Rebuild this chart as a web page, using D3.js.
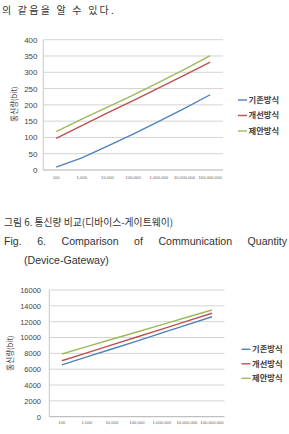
<!DOCTYPE html>
<html><head><meta charset="utf-8">
<script src="https://cdn.jsdelivr.net/npm/d3@7"></script>
<style>
html,body{margin:0;padding:0;background:#fff;}
svg{display:block;}
</style></head>
<body>
<svg id="c" width="289" height="434"></svg>
<script>
const categories = ["100","1,000","10,000","100,000","1,000,000","10,000,000","100,000,000"];
const seriesNames = ["기존방식","개선방식","제안방식"];
const colors = ["#4F81BD","#C0504D","#9BBB59"];
// Chart 1: Device-Gateway
const c1Existing = [9, 37, 73, 110, 149, 189, 231];
const c1Improved = [97, 136, 175, 213, 252, 291, 331];
const c1Proposed = [118, 156, 193, 230, 269, 309, 351];
const c1Ticks = [0,50,100,150,200,250,300,350,400];
// Chart 2
const c2Existing = [6550, 7550, 8550, 9550, 10580, 11600, 12620];
const c2Improved = [7070, 8070, 9070, 10070, 11060, 12060, 13060];
const c2Proposed = [7920, 8850, 9780, 10700, 11630, 12560, 13480];
const c2Ticks = [0,2000,4000,6000,8000,10000,12000,14000,16000];
const yTitle = "통신량(bit)";

const svg = d3.select("#c");
const KR = "'Noto Sans CJK KR','Noto Sans',sans-serif";
const NUM = "'Liberation Sans',Arial,sans-serif";

// Top body text
svg.append("text").attr("x",2).attr("y",14).attr("font-family",KR)
  .attr("font-size",10).attr("letter-spacing","2.2px").attr("fill","#333")
  .text("의 같음을 알 수 있다.");

// Captions
svg.append("text").attr("x",4).attr("y",226).attr("font-family",KR)
  .attr("font-size",9.8).attr("fill","#333")
  .text("그림 6. 통신량 비교(디바이스-게이트웨이)");
// Justified English line
const figWords = ["Fig.","6.","Comparison","of","Communication","Quantity"];
(function(){
  const left = 4, right = 287, y = 245;
  const ts = figWords.map(w => svg.append("text").attr("y",y).attr("font-family",NUM)
    .attr("font-size",10.6).attr("fill","#333").text(w));
  const widths = ts.map(t => t.node().getComputedTextLength());
  const gap = (right - left - d3.sum(widths)) / (figWords.length - 1);
  let xx = left;
  ts.forEach((t,i)=>{ t.attr("x",xx); xx += widths[i] + gap; });
})();
svg.append("text").attr("x",24).attr("y",264).attr("font-family",NUM)
  .attr("font-size",10.6).attr("fill","#333")
  .text("(Device-Gateway)");

function drawChart(o){
  const g = svg.append("g");
  const x = d3.scaleBand().domain(categories).range([o.left,o.right]);
  const y = d3.scaleLinear().domain([0,o.max]).range([o.bottom,o.top]);
  g.selectAll(".grid").data(o.ticks).join("line")
    .attr("x1",o.left).attr("x2",o.right)
    .attr("y1",d=>y(d)).attr("y2",d=>y(d))
    .attr("stroke",d=>d===0?"#b0b0b0":"#d4d4d4").attr("stroke-width",1);
  g.append("line").attr("x1",o.left).attr("x2",o.left).attr("y1",o.top).attr("y2",o.bottom)
    .attr("stroke","#c8c8c8");
  const ya = d3.axisLeft(y).tickValues(o.ticks).tickSize(0).tickPadding(0).tickFormat(d3.format("d"));
  const yg = g.append("g").attr("transform",`translate(${o.labelRight},0)`).call(ya);
  yg.select(".domain").remove();
  yg.selectAll("text").attr("font-family",NUM).attr("font-size",o.yfs).attr("fill","#444");
  const xa = d3.axisBottom(x).tickSize(0).tickPadding(0);
  const xg = g.append("g").attr("transform",`translate(0,${o.xlabY})`).call(xa);
  xg.select(".domain").remove();
  xg.selectAll("text").attr("font-family",NUM).attr("font-size",4.2).attr("fill","#666");
  g.append("text").attr("transform",`translate(${o.titleX},${o.titleY}) rotate(-90)`)
    .attr("text-anchor","middle").attr("font-family",KR).attr("font-size",7.5).attr("fill","#444")
    .text(yTitle);
  const line = d3.line().x((d,i)=>x(categories[i])+x.bandwidth()/2).y(d=>y(d));
  o.series.forEach((s,i)=>{
    g.append("path").datum(s).attr("d",line).attr("fill","none")
      .attr("stroke",colors[i]).attr("stroke-width",1.4);
  });
  seriesNames.forEach((n,i)=>{
    const ly = o.legY + i*o.legStep;
    g.append("line").attr("x1",o.legX).attr("x2",o.legX+9).attr("y1",ly).attr("y2",ly)
      .attr("stroke",colors[i]).attr("stroke-width",1.4);
    g.append("text").attr("x",o.legX+10.5).attr("y",ly).attr("dy","0.35em")
      .attr("font-family",KR).attr("font-weight","bold").attr("font-size",8.3).attr("fill","#444")
      .text(n);
  });
}

drawChart({left:43.3,right:223,top:39.7,bottom:170,max:400,ticks:c1Ticks,
  labelRight:37.5,yfs:8,xlabY:176,titleX:17,titleY:104,
  series:[c1Existing,c1Improved,c1Proposed],legX:238,legY:100,legStep:15.5});
drawChart({left:49.3,right:224.5,top:290,bottom:416.7,max:16000,ticks:c2Ticks,
  labelRight:41,yfs:7.5,xlabY:421.5,titleX:13,titleY:353,
  series:[c2Existing,c2Improved,c2Proposed],legX:241.5,legY:349.3,legStep:14.5});
</script>
</body></html>
